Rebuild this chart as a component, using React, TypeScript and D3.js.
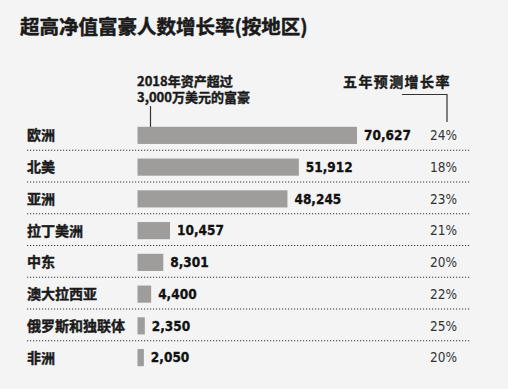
import * as d3 from 'd3';
import { useEffect, useRef } from "react";

const regions = ['欧洲', '北美', '亚洲', '拉丁美洲', '中东', '澳大拉西亚', '俄罗斯和独联体', '非洲'];
const wealthyCounts = [70627, 51912, 48245, 10457, 8301, 4400, 2350, 2050];
const growthRates = [24, 18, 23, 21, 20, 22, 25, 20];

const WIDTH = 508;
const HEIGHT = 391;
const BAR_X = 137.5;
const CJK = '"Noto Sans CJK SC", "Noto Sans", sans-serif';
const NARROW = '"DejaVu Sans Condensed", "Liberation Sans Narrow", sans-serif';

export default function App() {
    const ref = useRef(null);
    useEffect(() => {
        if (!ref.current) return;
        const svg = d3.select(ref.current);
        svg.selectAll("*").remove();

        svg.append('rect').attr('width', WIDTH).attr('height', HEIGHT).attr('fill', '#ffffff');
        svg.append('rect').attr('width', WIDTH).attr('height', 389).attr('fill', '#f4f4f4');

        const x = d3.scaleLinear().domain([0, 70627]).range([0, 219.5]);
        const y = d3.scaleBand<string>()
            .domain(regions)
            .range([119.5, 373.5])
            .paddingInner(0.46)
            .paddingOuter(0.23);

        // bold CJK text looks heavier in the original, thicken with a thin stroke
        const heavy = (sel: any, w: number) => sel
            .attr('stroke', '#1a1a1a').attr('stroke-width', w).attr('paint-order', 'stroke');

        // title
        heavy(svg.append('text')
            .attr('x', 20).attr('y', 34)
            .attr('font-family', CJK).attr('font-weight', 700).attr('font-size', 19.5)
            .attr('fill', '#1a1a1a')
            .text('超高净值富豪人数增长率(按地区)'), 0.5);

        // column headers
        const header = svg.append('g')
            .attr('font-family', CJK).attr('font-weight', 700).attr('font-size', 13)
            .attr('fill', '#1a1a1a');
        heavy(header, 0.4);
        header.append('text').attr('x', 137).attr('y', 86).text('2018年资产超过');
        header.append('text').attr('x', 137).attr('y', 101.5).text('3,000万美元的富豪');
        header.append('text').attr('x', 343).attr('y', 86.5)
            .attr('font-size', 14)
            .attr('letter-spacing', 1.4)
            .text('五年预测增长率');

        svg.append('line')
            .attr('x1', 150.5).attr('x2', 150.5).attr('y1', 106).attr('y2', 133)
            .attr('stroke', '#333').attr('stroke-width', 1.2);
        svg.append('path')
            .attr('d', 'M402,94.5H447V122')
            .attr('fill', 'none').attr('stroke', '#333').attr('stroke-width', 1.2);

        const rows = svg.append('g').selectAll('g')
            .data(regions)
            .enter()
            .append('g');

        // separators
        rows.filter((_, i) => i < regions.length - 1)
            .append('line')
            .attr('x1', 27).attr('x2', 470)
            .attr('y1', d => (y(d) ?? 0) + y.bandwidth() / 2 + y.step() / 2 - 1)
            .attr('y2', d => (y(d) ?? 0) + y.bandwidth() / 2 + y.step() / 2 - 1)
            .attr('stroke', '#333').attr('stroke-width', 1)
            .attr('stroke-dasharray', '1.2,1.8');

        rows.append('rect')
            .attr('x', BAR_X)
            .attr('y', d => y(d) ?? 0)
            .attr('width', (_, i) => x(wealthyCounts[i]))
            .attr('height', y.bandwidth())
            .attr('fill', '#9e9d9b');

        heavy(rows.append('text')
            .attr('x', 27)
            .attr('y', d => (y(d) ?? 0) + y.bandwidth() / 2)
            .attr('dy', '0.36em')
            .attr('font-family', CJK).attr('font-weight', 700).attr('font-size', 14)
            .attr('fill', '#1a1a1a')
            .text(d => d), 0.4);

        heavy(rows.append('text')
            .attr('x', (_, i) => BAR_X + x(wealthyCounts[i]) + 7)
            .attr('y', d => (y(d) ?? 0) + y.bandwidth() / 2)
            .attr('dy', '0.36em')
            .attr('font-family', NARROW).attr('font-weight', 700).attr('font-size', 13.5)
            .attr('fill', '#111')
            .text((_, i) => d3.format(',')(wealthyCounts[i])), 0.3);

        rows.append('text')
            .attr('x', 457)
            .attr('y', d => (y(d) ?? 0) + y.bandwidth() / 2)
            .attr('dy', '0.36em')
            .attr('text-anchor', 'end')
            .attr('font-family', NARROW).attr('font-size', 13.5)
            .attr('fill', '#333')
            .text((_, i) => `${growthRates[i]}%`);
    }, []);

    return (
        <div style={{ position: 'fixed', left: 0, top: 0 }}>
            <svg ref={ref} width={WIDTH} height={HEIGHT}></svg>
        </div>
    );
}
